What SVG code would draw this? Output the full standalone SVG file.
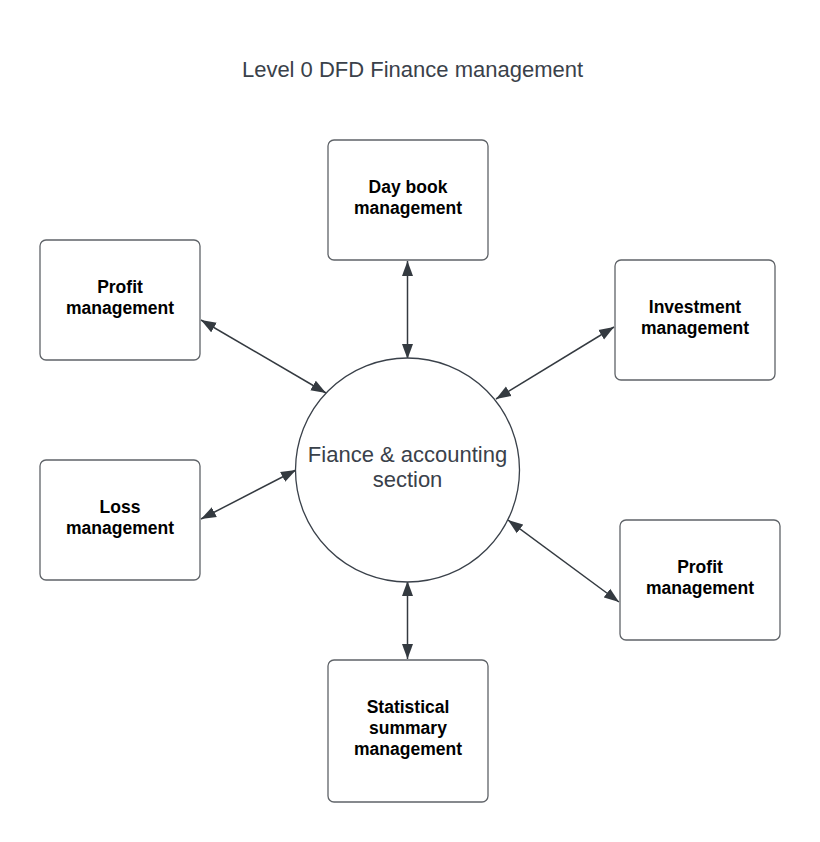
<svg xmlns="http://www.w3.org/2000/svg" width="820" height="842" viewBox="0 0 820 842">
<style>
.box{fill:#fff;stroke:#5f6368;stroke-width:1.3}
.lbl{font-family:"Liberation Sans",Arial,sans-serif;font-weight:bold;font-size:17.5px;fill:#000;text-anchor:middle}
.ttl{font-family:"Liberation Sans",Arial,sans-serif;font-size:22px;fill:#3a414a;text-anchor:middle}
.ctr{font-family:"Liberation Sans",Arial,sans-serif;font-size:22px;fill:#3a414a;text-anchor:middle}
.con{stroke:#343a40;stroke-width:1.5;fill:none;marker-start:url(#ah);marker-end:url(#ah)}
</style>
<defs>
<marker id="ah" markerUnits="userSpaceOnUse" markerWidth="16" markerHeight="12" refX="15" refY="5.5" orient="auto-start-reverse" viewBox="0 0 16 11">
<path d="M0,0 L15,5.5 L0,11 z" fill="#343a40"/>
</marker>
</defs>
<rect width="820" height="842" fill="#fff"/>
<text class="ttl" x="412.5" y="77">Level 0 DFD Finance management</text>
<g id="connectors">
<line class="con" x1="407.5" y1="261" x2="407.5" y2="359"/>
<line class="con" x1="201" y1="320" x2="326" y2="393"/>
<line class="con" x1="614" y1="327" x2="496" y2="399"/>
<line class="con" x1="201" y1="519" x2="296" y2="470"/>
<line class="con" x1="508" y1="520" x2="619" y2="602"/>
<line class="con" x1="407.5" y1="581" x2="407.5" y2="659"/>
</g>
<g id="center">
<circle cx="407.5" cy="470" r="112" fill="#fff" stroke="#3a414a" stroke-width="1.3"/>
<text class="ctr" x="407.5" y="462">Fiance &amp; accounting</text>
<text class="ctr" x="407.5" y="487">section</text>
</g>
<g id="daybook">
<rect class="box" x="328" y="140" width="160" height="120" rx="6"/>
<text class="lbl" x="408" y="193">Day book</text>
<text class="lbl" x="408" y="214">management</text>
</g>
<g id="profit-left">
<rect class="box" x="40" y="240" width="160" height="120" rx="6"/>
<text class="lbl" x="120" y="293">Profit</text>
<text class="lbl" x="120" y="314">management</text>
</g>
<g id="investment">
<rect class="box" x="615" y="260" width="160" height="120" rx="6"/>
<text class="lbl" x="695" y="313">Investment</text>
<text class="lbl" x="695" y="334">management</text>
</g>
<g id="loss">
<rect class="box" x="40" y="460" width="160" height="120" rx="6"/>
<text class="lbl" x="120" y="513">Loss</text>
<text class="lbl" x="120" y="534">management</text>
</g>
<g id="profit-right">
<rect class="box" x="620" y="520" width="160" height="120" rx="6"/>
<text class="lbl" x="700" y="573">Profit</text>
<text class="lbl" x="700" y="594">management</text>
</g>
<g id="statistical">
<rect class="box" x="328" y="660" width="160" height="142" rx="6"/>
<text class="lbl" x="408" y="713">Statistical</text>
<text class="lbl" x="408" y="734">summary</text>
<text class="lbl" x="408" y="755">management</text>
</g>
</svg>
